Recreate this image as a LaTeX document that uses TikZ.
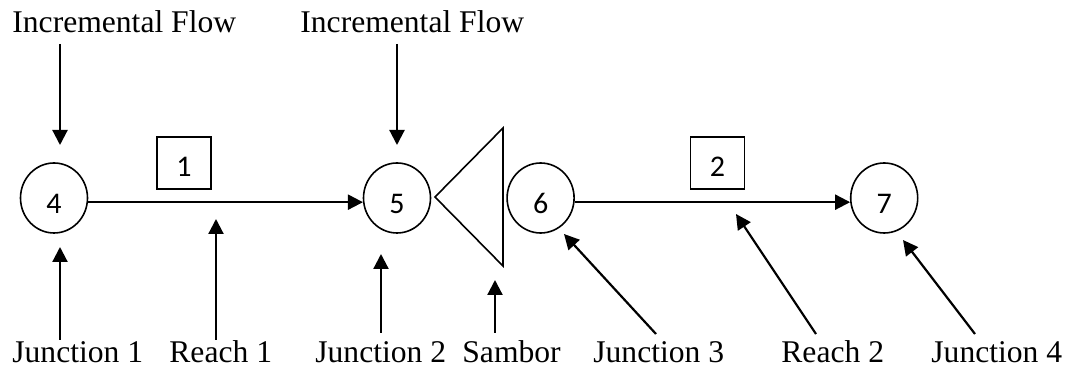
\documentclass[tikz,border=0pt]{standalone}
\usepackage{fontspec}
\setmainfont{Liberation Serif}
\newfontfamily\numfont{Carlito}
\usepackage{tikz}
\usetikzlibrary{positioning,calc,shapes.geometric,arrows.meta}

\begin{document}
\begin{tikzpicture}[x=0.5pt,y=-0.5pt,
  font=\fontsize{15.8}{18}\selectfont,
  junction/.style={ellipse,draw,line width=0.8pt,inner sep=0pt,
    minimum width=33.5pt,minimum height=35pt,
    font=\fontsize{15}{18}\numfont,text height=16pt,text depth=0pt},
  reach/.style={rectangle,draw,line width=0.8pt,inner sep=0pt,
    minimum width=27pt,minimum height=26pt,
    font=\fontsize{15}{18}\numfont,text height=14pt,text depth=0pt},
  lbl/.style={anchor=base west,inner sep=0pt},
  arr/.style={line width=1.1pt,-{Triangle[length=7.5pt,width=7.5pt]}}]
\useasboundingbox (0,0) rectangle (1066,368);
%\draw[help lines,step=50] (0,0) grid (1066,368);
\node[junction] (n4) at (54,198) {4};
\node[junction] (n5) at (397,198) {5};
\node[junction,right=37.5pt of n5] (n6) {6};
\node[junction,right=137.5pt of n6] (n7) {7};

\node[reach] (r1) at (184,163) {1};
\node[reach] (r2) at (717.5,163) {2};

% Sambor dam
\coordinate (s1) at (435,197);
\coordinate (s2) at (503,128);
\coordinate (s3) at (503,266);
\draw[line width=0.8pt] (s1) -- (s2) -- (s3) -- cycle;

\node[lbl] (if1) at (12,33) {Incremental Flow};
\node[lbl] (if2) at (300,33) {Incremental Flow};
\node[lbl] (j1) at (12,363) {Junction 1};
\node[lbl] (rc1) at (169,363) {Reach 1};
\node[lbl] (j2) at (315,363) {Junction 2};
\node[lbl] (sb) at (462,363) {Sambor};
\node[lbl] (j3) at (593,363) {Junction 3};
\node[lbl] (rc2) at (781,363) {Reach 2};
\node[lbl] (j4) at (931,363) {Junction 4};

% free ends of the pointers
\coordinate (if1a) at (60,44);   \coordinate (if1b) at (60,145);
\coordinate (if2a) at (397,44);  \coordinate (if2b) at (397,145);
\coordinate (j1a) at (60,340);   \coordinate (j1b) at (60,247);
\coordinate (rc1a) at (216,340); \coordinate (rc1b) at (216,219);
\coordinate (j2a) at (381,333);  \coordinate (j2b) at (381,254);
\coordinate (sba) at (495,333);  \coordinate (sbb) at (495,280);
\coordinate (j3a) at (656,334);  \coordinate (j3b) at (564,234);
\coordinate (rc2a) at (816,334); \coordinate (rc2b) at (736,214);
\coordinate (j4a) at (975,334);  \coordinate (j4b) at (903,240);

\draw[arr] (n4.-7) -- (n5.187);
\draw[arr] (n6.-7) -- (n7.187);
\foreach \p in {if1,if2,j1,rc1,j2,sb,j3,rc2,j4}
  \draw[arr] (\p a) -- (\p b);
\end{tikzpicture}
\end{document}
